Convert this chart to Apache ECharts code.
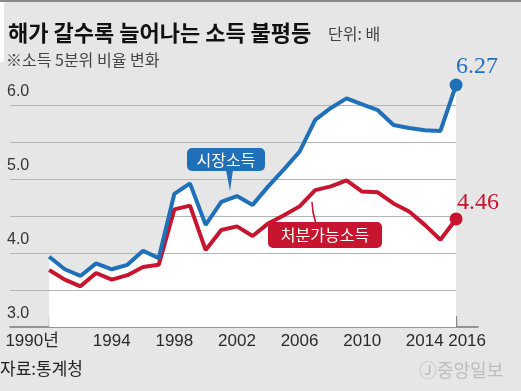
<!DOCTYPE html>
<html><head><meta charset="utf-8">
<script src="https://cdn.jsdelivr.net/npm/echarts@6/dist/echarts.min.js"></script>
<style>html,body{margin:0;padding:0;background:#e6e6e6}#c{width:521px;height:391px}</style>
</head><body><div id="c"></div>
<script>
// ---- data ----
const years = [1990,1991,1992,1993,1994,1995,1996,1997,1998,1999,2000,2001,2002,2003,2004,2005,2006,2007,2008,2009,2010,2011,2012,2013,2014,2015,2016];
const marketIncome = [3.95,3.78,3.69,3.86,3.78,3.84,4.03,3.93,4.80,4.94,4.38,4.69,4.77,4.65,4.90,5.13,5.37,5.80,5.96,6.09,6.01,5.93,5.73,5.69,5.66,5.65,6.27];
const disposableIncome = [3.77,3.64,3.55,3.73,3.64,3.70,3.81,3.84,4.59,4.64,4.04,4.31,4.36,4.23,4.40,4.51,4.63,4.85,4.90,4.98,4.83,4.82,4.67,4.56,4.38,4.18,4.46];
const yGridMin = 3.5, yGridMax = 6.0, yStep = 0.5;
const yLabelValues = [3.0,4.0,5.0,6.0];
const majorYears = [1990,1994,1998,2002,2006,2010,2014,2016];

const BLUE = '#1f70b9', RED = '#c7142f';
const SANS = '"Liberation Sans","Noto Sans CJK KR",sans-serif';
const KR = '"Noto Sans CJK KR",sans-serif';

const chart = echarts.init(document.getElementById('c'), null, {renderer:'canvas'});

const pairs = arr => arr.map((v,i) => [years[i], v]);
function withEnd(arr, color, off){
  return arr.map((v,i) => {
    if (i < arr.length-1) return [years[i], v];
    return {value:[years[i], v], symbol:'circle', symbolSize:13,
      itemStyle:{color:color},
      label:{show:true, position:'top', offset:off, color:color,
        fontFamily:'"Liberation Serif","DejaVu Serif",serif', fontSize:24,
        formatter: p => p.value[1].toFixed(2)}};
  });
}

const xMin = 1987.5, xMax = 2017.4;

chart.setOption({
  backgroundColor:'#e6e6e6',
  animation:false,
  grid:[
    {left:10, right:43, top:68, bottom:64},
    {left:10, right:65, top:105, bottom:101}
  ],
  xAxis:[{
    type:'value', min:xMin, max:xMax,
    splitLine:{show:false},
    axisLine:{show:true, lineStyle:{color:'#7a7a7a', width:1.5}},
    axisTick:{show:true, inside:true, length:6, customValues:years, lineStyle:{color:'#7a7a7a', width:1.2}},
    axisLabel:{show:true, customValues:majorYears, margin:6, color:'#2a2a2a', fontSize:17, fontFamily:SANS,
      formatter: v => v===majorYears[0] ? '{l|'+v+'년}' : (v===majorYears[majorYears.length-1] ? '{r|'+v+'}' : String(v)),
      rich:{l:{padding:[0,34,0,0], fontSize:17, fontFamily:SANS, color:'#2a2a2a'},
            r:{padding:[0,0,0,22], fontSize:17, fontFamily:SANS, color:'#2a2a2a'}}}
  },{
    type:'value', min:xMin, max:xMax, position:'bottom',
    splitLine:{show:false}, axisLine:{show:false},
    axisTick:{show:true, inside:true, length:11, customValues:majorYears, lineStyle:{color:'#7a7a7a', width:1.2}},
    axisLabel:{show:false}
  },{
    type:'value', gridIndex:1, min:xMin, max:years[years.length-1],
    axisLine:{show:false}, axisTick:{show:false}, axisLabel:{show:false}, splitLine:{show:false}
  }],
  yAxis:[{
    type:'value', min:3, max:6.5, interval:0.5,
    splitLine:{show:false}, axisLine:{show:false}, axisTick:{show:false},
    axisLabel:{inside:true, margin:-3, verticalAlign:'bottom', padding:[0,0,5,0],
      color:'#333', fontSize:16, fontFamily:SANS,
      formatter: v => yLabelValues.some(t => Math.abs(t-v)<1e-6) ? v.toFixed(1) : ''}
  },{
    type:'value', gridIndex:1, min:yGridMin, max:yGridMax, interval:yStep, z:3,
    axisLine:{show:false}, axisTick:{show:false}, axisLabel:{show:false},
    splitLine:{show:true, lineStyle:{color:'#b4b4b4', width:1, type:'solid'}}
  }],
  series:[
    {type:'line', data:pairs(marketIncome), symbol:'none', z:1, silent:true,
     lineStyle:{width:0}, areaStyle:{color:'#ffffff', opacity:1, origin:'start'}},
    {type:'line', data:withEnd(marketIncome, BLUE, [21,5]), symbol:'none', z:6,
     lineStyle:{color:BLUE, width:4}, itemStyle:{color:BLUE}},
    {type:'line', data:withEnd(disposableIncome, RED, [22,7]), symbol:'none', z:5,
     lineStyle:{color:RED, width:4}, itemStyle:{color:RED}}
  ],
  graphic:[
    {type:'rect', shape:{x:0,y:0,width:521,height:2}, style:{fill:'#8a8a8a'}},
    {type:'rect', shape:{x:0,y:2,width:4,height:60}, style:{fill:'#ffffff'}},
    {type:'text', x:8, y:33, style:{text:'해가 갈수록 늘어나는 소득 불평등', fontFamily:KR, fontWeight:'bold', fontSize:22, fill:'#111', verticalAlign:'middle'}},
    {type:'text', x:328, y:34, style:{text:'단위: 배', fontFamily:KR, fontSize:16, fill:'#444', verticalAlign:'middle'}},
    {type:'text', x:6, y:60, style:{text:'※소득 5분위 비율 변화', fontFamily:KR, fontSize:16, fill:'#444', verticalAlign:'middle'}},
    {type:'rect', shape:{x:187, y:148, width:78, height:23, r:5}, style:{fill:BLUE}, z:10},
    {type:'polygon', shape:{points:[[226,170],[233,170],[230,191]]}, style:{fill:BLUE}, z:10},
    {type:'text', x:226, y:160, style:{text:'시장소득', fontFamily:KR, fontSize:16, fill:'#fff', align:'center', verticalAlign:'middle'}, z:11},
    {type:'polyline', shape:{points:[[312,202],[313,212],[316,224]]}, style:{stroke:RED, lineWidth:1.6, fill:null}, z:10},
    {type:'rect', shape:{x:268, y:222, width:114, height:26, r:5}, style:{fill:RED}, z:10},
    {type:'text', x:325, y:235, style:{text:'처분가능소득', fontFamily:KR, fontSize:16, fill:'#fff', align:'center', verticalAlign:'middle'}, z:11},
    {type:'text', x:0, y:369, style:{text:'자료:통계청', fontFamily:KR, fontSize:17, fill:'#222', verticalAlign:'middle'}},
    {type:'text', x:419, y:370, style:{text:'Ⓙ중앙일보', fontFamily:KR, fontSize:18, fill:'#bdbdbd', verticalAlign:'middle'}}
  ]
});
</script></body></html>
